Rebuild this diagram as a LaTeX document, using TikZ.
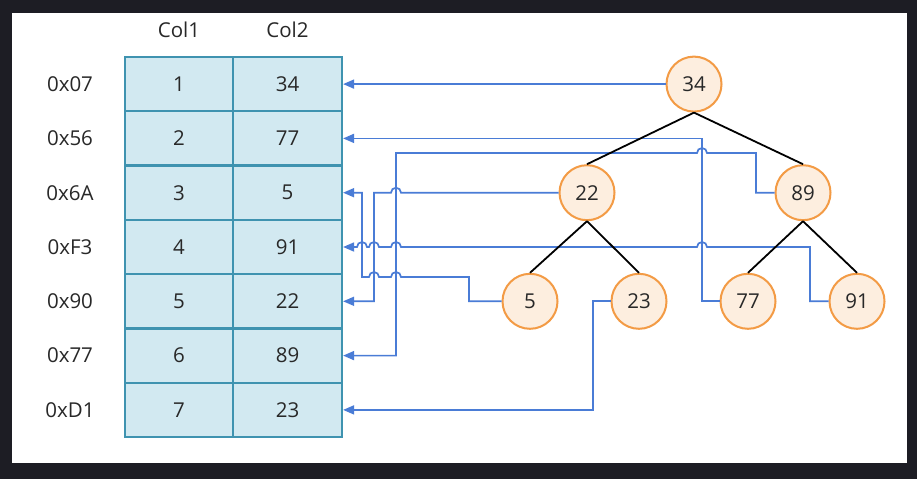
\documentclass[tikz,border=0pt]{standalone}
\usepackage{fontspec}
\setmainfont{Open Sans}
\usetikzlibrary{arrows.meta}
\definecolor{framecol}{HTML}{1D1D24}
\definecolor{cellfill}{HTML}{D2E9F1}
\definecolor{celldraw}{HTML}{3F93B0}
\definecolor{nodefill}{HTML}{FDEEDF}
\definecolor{nodedraw}{HTML}{F39B45}
\definecolor{linkblue}{HTML}{4A7CD6}
\definecolor{txt}{HTML}{282828}
\begin{document}
\begin{tikzpicture}[x=1pt,y=-1pt, font=\fontsize{20.5}{24}\selectfont, text=txt,
  cellA/.style={draw=celldraw, fill=cellfill, line width=2.2pt, minimum height=54.3pt, minimum width=108pt, inner sep=0pt},
  cellB/.style={cellA, minimum width=109pt},
  keylabel/.style={inner sep=0pt},
  tnode/.style={circle, draw=nodedraw, fill=nodefill, line width=2pt, minimum size=55pt, inner sep=0pt},
  treeedge/.style={black, line width=1.8pt},
  link/.style={linkblue, line width=1.7pt, -{Triangle[length=11pt,width=9pt]}}
]
\fill[framecol] (0,0) rectangle (917,479);
\fill[white] (12,13) rectangle (907,463);

% headers
\node[keylabel] (h1) at (179,30) {Col1};
\node[keylabel] (h2) at (287.5,30) {Col2};

% table
\node[cellA] (c1r1) at (179,84.1) {1};
\node[cellA] (c1r2) at (179,138.4) {2};
\node[cellA] (c1r3) at (179,192.7) {3};
\node[cellA] (c1r4) at (179,247.0) {4};
\node[cellA] (c1r5) at (179,301.3) {5};
\node[cellA] (c1r6) at (179,355.6) {6};
\node[cellA] (c1r7) at (179,409.9) {7};
\node[cellB] (c2r1) at (287.5,84.1) {34};
\node[cellB] (c2r2) at (287.5,138.4) {77};
\node[cellB] (c2r3) at (287.5,192.7) {5};
\node[cellB] (c2r4) at (287.5,247.0) {91};
\node[cellB] (c2r5) at (287.5,301.3) {22};
\node[cellB] (c2r6) at (287.5,355.6) {89};
\node[cellB] (c2r7) at (287.5,409.9) {23};

% keys
\node[keylabel] (k1) at (70,84.1) {0x07};
\node[keylabel] (k2) at (70,138.4) {0x56};
\node[keylabel] (k3) at (70,192.7) {0x6A};
\node[keylabel] (k4) at (70,247.0) {0xF3};
\node[keylabel] (k5) at (70,301.3) {0x90};
\node[keylabel] (k6) at (70,355.6) {0x77};
\node[keylabel] (k7) at (70,409.9) {0xD1};

% tree
\node[tnode] (n34) at (694,84.1) {34};
\node[tnode] (n22) at (587,192.7) {22};
\node[tnode] (n89) at (803,192.7) {89};
\node[tnode] (n5) at (530,301.3) {5};
\node[tnode] (n23) at (639,301.3) {23};
\node[tnode] (n77) at (748,301.3) {77};
\node[tnode] (n91) at (857,301.3) {91};

% links
\draw[link] (n34.west) -- (c2r1.east);
\draw[link] (n77.west) -- (702,301.3) -- (702,138.4) -- (c2r2.east);
\draw[link] (n89.west) -- (756,192.7) -- (756,153) -- (707,153) arc[start angle=0,end angle=180,radius=5pt] -- (396,153) -- (396,355.6) -- (c2r6.east);
\draw[link] (n22.west) -- (401,192.7) arc[start angle=0,end angle=180,radius=5pt] -- (374,192.7) -- (374,301.3) -- (c2r5.east);
\draw[link] (n5.west) -- (469,301.3) -- (469,277) -- (401,277) arc[start angle=0,end angle=180,radius=5pt] -- (379,277) arc[start angle=0,end angle=180,radius=5pt] -- (362,277) -- (362,192.7) -- (c2r3.east);
\draw[link] (n91.west) -- (810,301.3) -- (810,247) -- (707,247) arc[start angle=0,end angle=180,radius=5pt] -- (401,247) arc[start angle=0,end angle=180,radius=5pt] -- (379,247) arc[start angle=0,end angle=180,radius=5pt] -- (367,247) arc[start angle=0,end angle=180,radius=5pt] -- (c2r4.east);
\draw[link] (n23.west) -- (593,301.3) -- (593,409.9) -- (c2r7.east);

% tree edges
\draw[treeedge] (n34.south) -- (n22.north);
\draw[treeedge] (n34.south) -- (n89.north);
\draw[treeedge] (n22.south) -- (n5.north);
\draw[treeedge] (n22.south) -- (n23.north);
\draw[treeedge] (n89.south) -- (n77.north);
\draw[treeedge] (n89.south) -- (n91.north);
\end{tikzpicture}
\end{document}
